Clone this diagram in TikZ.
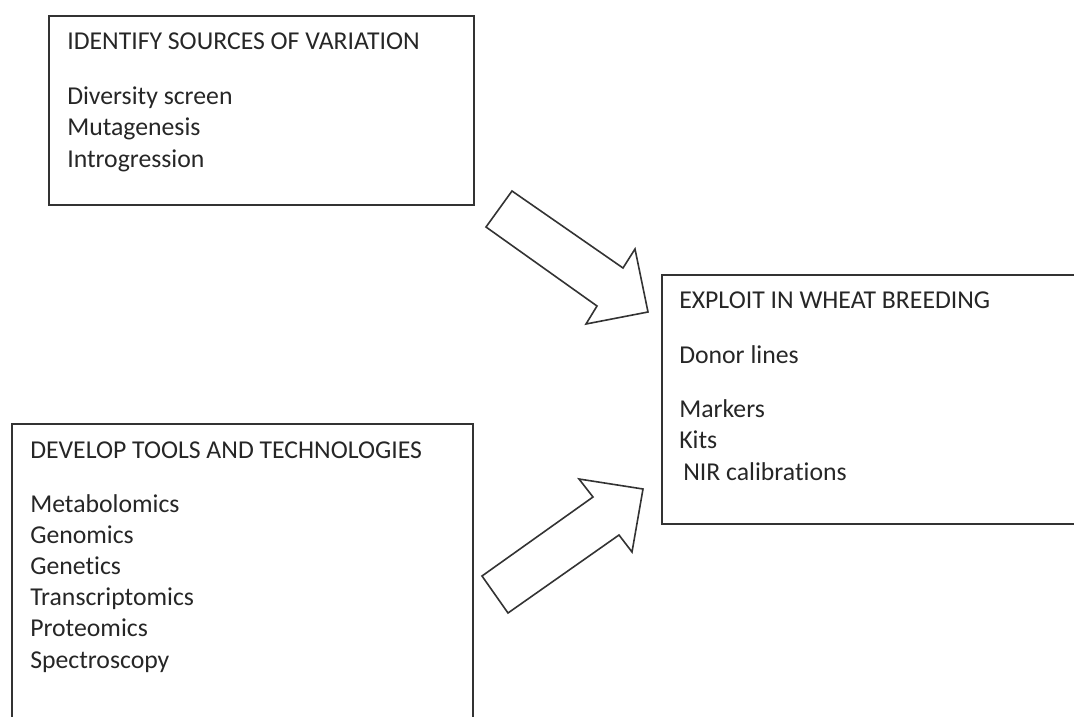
\documentclass[tikz,border=0pt]{standalone}
\usepackage{fontspec}
\setmainfont{Carlito}[Ligatures=NoCommon]
\usetikzlibrary{fit}

\begin{document}
\begin{tikzpicture}[x=0.75pt,y=-0.75pt]
\tikzstyle{box}=[draw=black!80,line width=1.6pt,inner sep=0pt]
\tikzstyle{boxtext}=[anchor=base west,align=left,inner sep=0pt,text=black!85,font=\fontsize{19.3pt}{23.4pt}\selectfont]
\tikzstyle{bigarrow}=[draw=black!80,line width=1.2pt,line join=miter,fill=white]
	\useasboundingbox (0,0) rectangle (1074,717);
	\clip (0,0) rectangle (1074,717);
	% the three boxes
	\node[box,fit={(49,16) (474,205)}] (sources) {};
	\node[box,fit={(12,424) (473,740)}] (tools) {};
	\node[box,fit={(662,275) (1100,524)}] (breeding) {};
	% box texts (base is the last line)
	\node[boxtext] (sourcestitle) at (67,50) {IDENTIFY SOURCES OF VARIATION};
	\node[boxtext] (sourceslist) at (67,167) {Diversity screen\\Mutagenesis\\Introgression};
	\node[boxtext] (toolstitle) at (30,458) {DEVELOP TOOLS AND TECHNOLOGIES};
	\node[boxtext] (toolslist) at (30,668) {Metabolomics\\Genomics\\Genetics\\Transcriptomics\\Proteomics\\Spectroscopy};
	\node[boxtext] (breedingtitle) at (679,308) {EXPLOIT IN WHEAT BREEDING};
	\node[boxtext] (donor) at (679,363) {Donor lines};
	\node[boxtext] (breedinglist) at (679,480) {Markers\\Kits\\\hspace*{3pt}NIR calibrations};
	% block arrows
	\draw[bigarrow] (512,191) -- (623,268) -- (635,249) -- (648,312) -- (586,324) -- (597,306) -- (486,227) -- cycle;
	\draw[bigarrow] (482,576) -- (593,497) -- (579,479) -- (643,489) -- (632,552) -- (619,535) -- (508,613) -- cycle;
%	\node at (breeding.center) {};
\end{tikzpicture}
\end{document}
